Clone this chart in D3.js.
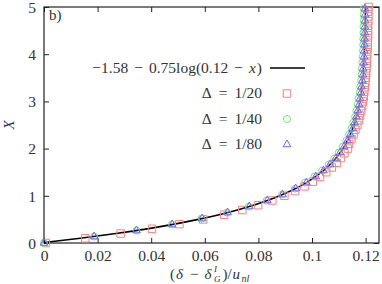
<!DOCTYPE html>
<html>
<head>
<meta charset="utf-8">
<script src="https://cdn.jsdelivr.net/npm/d3@7"></script>
<style>
  html, body { margin: 0; padding: 0; background: #fff; }
  svg { display: block; }
  text { font-family: "Liberation Serif", "Times New Roman", serif; fill: #333; }
</style>
</head>
<body>
<svg id="chart" width="382" height="284"></svg>
<script>
// ---- data ----
const xTicks = [0, 0.02, 0.04, 0.06, 0.08, 0.1, 0.12];
const xTickLabels = ["0", "0.02", "0.04", "0.06", "0.08", "0.1", "0.12"];
const yTicks = [0, 1, 2, 3, 4, 5];
const yTickLabels = ["0", "1", "2", "3", "4", "5"];

// fit curve  -1.58 - 0.75 log(0.12 - x)
const fitX = [0, 0.01355, 0.02684, 0.03847, 0.04865, 0.05755, 0.06535, 0.07217, 0.07814, 0.08337, 0.08794,
  0.09194, 0.09544, 0.09851, 0.10119, 0.10354, 0.10559, 0.10739, 0.10897, 0.11034, 0.11155,
  0.11260, 0.11353, 0.11433, 0.11504, 0.11566, 0.11620, 0.11668, 0.11709, 0.11745, 0.11777,
  0.11829, 0.11869, 0.11900, 0.11923, 0.11941, 0.11955, 0.11966, 0.11974, 0.11980, 0.11985];
const fitY = [0.01, 0.1, 0.2, 0.3, 0.4, 0.5, 0.6, 0.7, 0.8, 0.9, 1.0,
  1.1, 1.2, 1.3, 1.4, 1.5, 1.6, 1.7, 1.8, 1.9, 2.0,
  2.1, 2.2, 2.3, 2.4, 2.5, 2.6, 2.7, 2.8, 2.9, 3.0,
  3.2, 3.4, 3.6, 3.8, 4.0, 4.2, 4.4, 4.6, 4.8, 5.0];

// Delta = 1/20 (squares)
const d20X = [0.0007, 0.0154, 0.0286, 0.0403, 0.0505, 0.0594, 0.0672, 0.0740, 0.0799, 0.0852,
  0.0897, 0.0937, 0.0972, 0.1003, 0.1030, 0.1053, 0.1074, 0.1092, 0.1108, 0.1121,
  0.1134, 0.1138, 0.1147, 0.1155, 0.1162, 0.1169, 0.1174, 0.1179, 0.1183, 0.1187,
  0.1190, 0.1193, 0.1195, 0.1197, 0.1199, 0.1201, 0.1202, 0.1203, 0.1204, 0.1205,
  0.1206, 0.1207, 0.1208, 0.1208, 0.1209, 0.1209, 0.1209, 0.1210, 0.1210, 0.1210, 0.1211];
const d20Y = [0, 0.1, 0.2, 0.3, 0.4, 0.5, 0.6, 0.7, 0.8, 0.9,
  1.0, 1.1, 1.2, 1.3, 1.4, 1.5, 1.6, 1.7, 1.8, 1.9,
  2.0, 2.1, 2.2, 2.3, 2.4, 2.5, 2.6, 2.7, 2.8, 2.9,
  3.0, 3.1, 3.2, 3.3, 3.4, 3.5, 3.6, 3.7, 3.8, 3.9,
  4.0, 4.1, 4.2, 4.3, 4.4, 4.5, 4.6, 4.7, 4.8, 4.9, 5.0];

// Delta = 1/40 (circles)
const d40X = [0, 0.0187, 0.0345, 0.0478, 0.0588, 0.0683, 0.0764, 0.0831, 0.0888, 0.0937,
  0.0974, 0.1009, 0.1038, 0.1062, 0.1083, 0.1100, 0.1115, 0.1128, 0.1138, 0.1147,
  0.1154, 0.1161, 0.1166, 0.1171, 0.1174, 0.1178, 0.1180, 0.1183, 0.1185, 0.1186,
  0.1188, 0.1189, 0.1190, 0.1191, 0.1191, 0.1192, 0.1192, 0.1193, 0.1193, 0.1193];
const d40Y = [0, 0.137, 0.264, 0.391, 0.518, 0.645, 0.772, 0.899, 1.026, 1.153,
  1.28, 1.407, 1.534, 1.661, 1.788, 1.915, 2.042, 2.169, 2.296, 2.423,
  2.55, 2.677, 2.804, 2.931, 3.058, 3.185, 3.312, 3.439, 3.566, 3.693,
  3.82, 3.947, 4.074, 4.201, 4.328, 4.455, 4.582, 4.709, 4.836, 4.963];

// Delta = 1/80 (triangles)
const d80X = [0, 0.0187, 0.0345, 0.0478, 0.0590, 0.0685, 0.0766, 0.0833, 0.0890, 0.0939,
  0.0979, 0.1014, 0.1043, 0.1067, 0.1088, 0.1105, 0.1120, 0.1133, 0.1143, 0.1152,
  0.1159, 0.1166, 0.1171, 0.1176, 0.1179, 0.1183, 0.1185, 0.1188, 0.1190, 0.1191,
  0.1193, 0.1194, 0.1195, 0.1196, 0.1196, 0.1197, 0.1197, 0.1198, 0.1198, 0.1198];
const d80Y = [0, 0.137, 0.264, 0.391, 0.518, 0.645, 0.772, 0.899, 1.026, 1.153,
  1.28, 1.407, 1.534, 1.661, 1.788, 1.915, 2.042, 2.169, 2.296, 2.423,
  2.55, 2.677, 2.804, 2.931, 3.058, 3.185, 3.312, 3.439, 3.566, 3.693,
  3.82, 3.947, 4.074, 4.201, 4.328, 4.455, 4.582, 4.709, 4.836, 4.963];

const legendLabels = ["\u22121.58 \u2212 0.75log(0.12 \u2212 x)", "\u0394 = 1/20", "\u0394 = 1/40", "\u0394 = 1/80"];

// ---- layout ----
const L = 44, R = 379, T = 7, B = 243;
const svg = d3.select("#chart");
const x = d3.scaleLinear().domain([0, 0.125]).range([L, R]);
const y = d3.scaleLinear().domain([0, 5]).range([B, T]);

const frameColor = "#222";
const tickLen = 5;
const serif = '"Liberation Serif", "Times New Roman", serif';

// ticks (inward, mirrored)
const gx = svg.append("g").attr("transform", `translate(0,${B})`)
  .call(d3.axisBottom(x).tickValues(xTicks).tickSizeInner(-tickLen).tickSizeOuter(0)
    .tickPadding(6.5).tickFormat((d, i) => xTickLabels[i]));
const gxt = svg.append("g").attr("transform", `translate(0,${T})`)
  .call(d3.axisTop(x).tickValues(xTicks).tickSizeInner(-tickLen).tickSizeOuter(0).tickFormat(""));
const gy = svg.append("g").attr("transform", `translate(${L},0)`)
  .call(d3.axisLeft(y).tickValues(yTicks).tickSizeInner(-tickLen).tickSizeOuter(0)
    .tickPadding(8).tickFormat((d, i) => yTickLabels[i]));
const gyr = svg.append("g").attr("transform", `translate(${R},0)`)
  .call(d3.axisRight(y).tickValues(yTicks).tickSizeInner(-tickLen).tickSizeOuter(0).tickFormat(""));

[gx, gxt, gy, gyr].forEach(g => {
  g.attr("font-family", serif);
  g.select(".domain").remove();
  g.selectAll(".tick line").attr("stroke", frameColor).attr("stroke-width", 1);
  g.selectAll(".tick text").attr("font-family", serif)
    .style("font-size", "15.5px").attr("fill", "#333");
});
gy.selectAll(".tick text").attr("dy", "0.34em");

// frame
svg.append("rect").attr("x", L).attr("y", T).attr("width", R - L).attr("height", B - T)
  .attr("fill", "none").attr("stroke", frameColor).attr("stroke-width", 1.2);

// fit line
const fitData = fitX.map((v, i) => [v, fitY[i]]);
svg.append("path").datum(fitData)
  .attr("fill", "none").attr("stroke", "#000").attr("stroke-width", 1.6)
  .attr("d", d3.line().x(d => x(d[0])).y(d => y(d[1])).curve(d3.curveMonotoneY));

const sqColor = "#ff8080", ciColor = "#70ea70", trColor = "#6868ff";
const sqSym = d3.symbol().type(d3.symbolSquare).size(56);
const ciSym = d3.symbol().type(d3.symbolCircle).size(38);
const trSym = d3.symbol().type(d3.symbolTriangle).size(26);

function drawMarkers(xs, ys, sym, color) {
  svg.append("g").selectAll("path").data(xs.map((v, i) => [v, ys[i]])).join("path")
    .attr("transform", d => `translate(${x(d[0])},${y(d[1])})`)
    .attr("d", sym).attr("fill", "none").attr("stroke", color).attr("stroke-width", 1);
}
drawMarkers(d20X, d20Y, sqSym, sqColor);
drawMarkers(d40X, d40Y, ciSym, ciColor);
drawMarkers(d80X, d80Y, trSym, trColor);

// legend
const lgRight = 262, lgY0 = 68, lgDy = 25.5, lgMarkX = 287;
const fs = "15.5px";
function legendText(i) {
  return svg.append("text").attr("x", lgRight).attr("y", lgY0 + i * lgDy).attr("dy", "0.32em")
    .attr("text-anchor", "end").style("font-size", fs);
}
const t0 = legendText(0);
t0.append("tspan").text("\u22121.58");
t0.append("tspan").attr("dx", 6).text("\u2212");
t0.append("tspan").attr("dx", 6).text("0.75log(0.12");
t0.append("tspan").attr("dx", 6).text("\u2212");
t0.append("tspan").attr("dx", 6).style("font-style", "italic").text("x");
t0.append("tspan").attr("dx", 1).text(")");
svg.append("line").attr("x1", 270).attr("x2", 305).attr("y1", lgY0).attr("y2", lgY0)
  .attr("stroke", "#000").attr("stroke-width", 1.6);

for (let i = 1; i <= 3; i++) {
  const parts = legendLabels[i].split(" = ");
  const t = legendText(i);
  t.append("tspan").text(parts[0]);
  t.append("tspan").attr("dx", 7).text("=");
  t.append("tspan").attr("dx", 7).text(parts[1]);
}
[[sqSym, sqColor], [ciSym, ciColor], [trSym, trColor]].forEach((s, i) => {
  svg.append("path").attr("transform", `translate(${lgMarkX},${lgY0 + (i + 1) * lgDy})`)
    .attr("d", s[0]).attr("fill", "none").attr("stroke", s[1]).attr("stroke-width", 1);
});

// panel label
svg.append("text").attr("x", 49).attr("y", 20).style("font-size", "15px").text("b)");

// x axis title: (δ − δ_G^I)/u_nl  -- pieces laid out by measured widths
const baseY = 279;
let cx = 170;
function piece(txt, size, dy, italic, gap) {
  cx += gap || 0;
  const t = svg.append("text").attr("x", cx).attr("y", baseY + dy)
    .style("font-size", size + "px").style("font-style", italic ? "italic" : "normal").text(txt);
  const w = t.node().getComputedTextLength();
  return { t, w };
}
let p;
p = piece("(", 15, 0, false); cx += p.w + 1;
p = piece("\u03B4", 15, 0, true); cx += p.w + 2;
p = piece("\u2212", 15, 0, false, 5); cx += p.w + 1;
p = piece("\u03B4", 15, 0, true, 5); cx += p.w + 2.5;
const supI = piece("I", 9, -7, true);
const subG = piece("G", 9, 2.5, true);
cx += Math.max(supI.w, subG.w) + 2;
p = piece(")/", 15, 0, false); cx += p.w + 1;
p = piece("u", 15, 0, true); cx += p.w + 1.5;
p = piece("nl", 10, 2.5, true); cx += p.w;

svg.append("text").attr("transform", "translate(14,125) rotate(-90)").attr("text-anchor", "middle")
  .style("font-size", "15px").style("font-style", "italic").text("X");
</script>
</body>
</html>
